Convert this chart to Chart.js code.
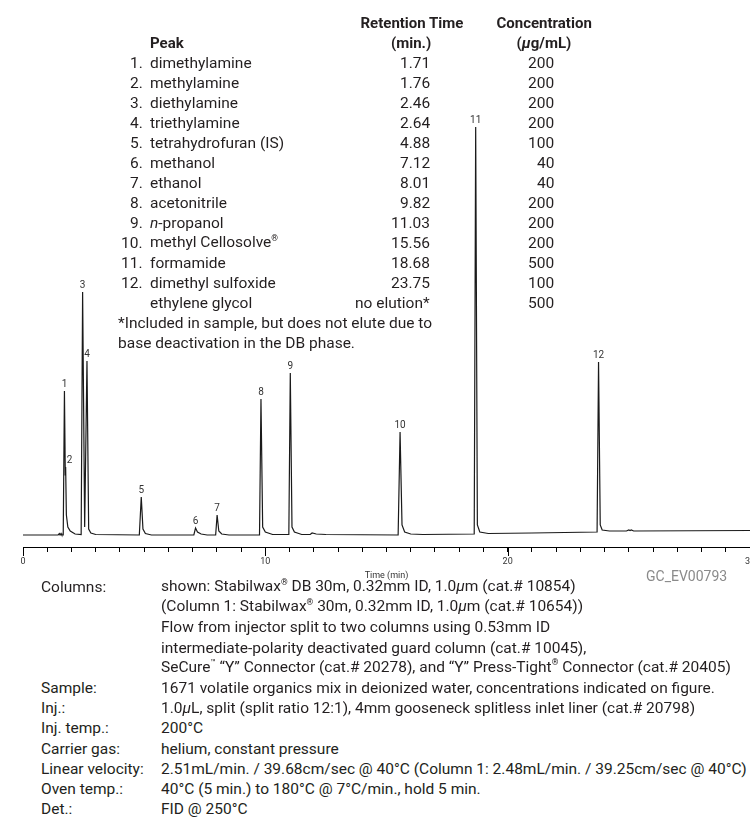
<!DOCTYPE html>
<html>
<head>
<meta charset="utf-8">
<script src="https://cdn.jsdelivr.net/npm/chart.js@4.4.1/dist/chart.umd.min.js"></script>
<style>
  body { margin: 0; width: 750px; height: 829px; overflow: hidden; background: #fff; position: relative;
         font-family: Roboto, "Liberation Sans Narrow", sans-serif; color: #231f20; }
  #chartBox { position: absolute; left: 0; top: 0; width: 760px; height: 600px; }
  #chart { display: block; }
  .t { position: absolute; white-space: nowrap; line-height: 20px; font-size: 15.5px; transform: translateY(-50%); }
  .b { font-weight: bold; font-size: 15px; }
  sup { font-size: 55%; vertical-align: 0; position: relative; top: -0.75em; }
  .code { color: #8a8a8a; font-size: 14px; }
</style>
</head>
<body>
<div id="chartBox"><canvas id="chart" width="760" height="600"></canvas></div>
<div id="overlay"></div>
<script>
// peak table
const peakNames = ['dimethylamine', 'methylamine', 'diethylamine', 'triethylamine', 'tetrahydrofuran (IS)',
  'methanol', 'ethanol', 'acetonitrile', '<i>n</i>-propanol', 'methyl Cellosolve<sup>®</sup>', 'formamide',
  'dimethyl sulfoxide'];
const peakTimes = [1.71, 1.76, 2.46, 2.64, 4.88, 7.12, 8.01, 9.82, 11.03, 15.56, 18.68, 23.75];
const peakConc = [200, 200, 200, 200, 100, 40, 40, 200, 200, 200, 500, 100];
const extraRow = ['ethylene glycol', 'no elution*', 500];

// detector trace (time in min, signal in arbitrary units)
const traceTime = [0, 1.45, 1.5, 1.53, 1.57, 1.6, 1.66, 1.71, 1.745, 1.76, 1.79, 1.85, 1.95, 2.15,
  2.4, 2.46, 2.545, 2.64, 2.71, 2.8, 3.0, 4.8, 4.88, 4.95, 5.05, 5.3, 7.05, 7.12, 7.2, 7.35, 7.6,
  7.95, 8.01, 8.08, 8.2, 8.5, 9.76, 9.82, 9.89, 10.0, 10.3, 10.97, 11.03, 11.1, 11.2, 11.5, 11.85,
  11.93, 12.1, 12.5, 15.48, 15.56, 15.64, 15.75, 16.0, 16.5, 18.62, 18.68, 18.75, 18.85, 19.2, 21.0,
  23.69, 23.75, 23.82, 23.9, 24.2, 24.9, 25.0, 25.05, 25.1, 25.2, 30];
const traceSignal = [0, 0, 1.5, 0, 1.5, 0, 0, 144, 60, 68, 20, 8, 4, 1,
  0.5, 243, 8, 174, 6, 2, 0.5, 0, 38, 6, 1.5, 0, 0, 7, 3, 1, 0,
  0, 20, 4, 1, 0, 0, 136, 8, 3, 0.5, 0.5, 162, 8, 3, 0.5, 0.5,
  2, 1, 0.5, 0, 103, 10, 3, 1, 0.5, 1, 408, 10, 3, 1.5, 2,
  3, 173, 10, 5, 4, 4, 5, 4.5, 5, 4, 4.5];

const axisTicks = [0, 10, 20, 30];

// conditions block
const condLabels = ['Columns:', '', '', '', '', 'Sample:', 'Inj.:', 'Inj. temp.:', 'Carrier gas:',
  'Linear velocity:', 'Oven temp.:', 'Det.:'];
const condValues = [
  'shown: Stabilwax<sup>®</sup> DB 30m, 0.32mm ID, 1.0<i>µ</i>m (cat.# 10854)',
  '(Column 1: Stabilwax<sup>®</sup> 30m, 0.32mm ID, 1.0<i>µ</i>m (cat.# 10654))',
  'Flow from injector split to two columns using 0.53mm ID',
  'intermediate-polarity deactivated guard column (cat.# 10045),',
  'SeCure<sup>™</sup> “Y” Connector (cat.# 20278), and “Y” Press-Tight<sup>®</sup> Connector (cat.# 20405)',
  '1671 volatile organics mix in deionized water, concentrations indicated on figure.',
  '1.0<i>µ</i>L, split (split ratio 12:1), 4mm gooseneck splitless inlet liner (cat.# 20798)',
  '200°C',
  'helium, constant pressure',
  '2.51mL/min. / 39.68cm/sec @ 40°C (Column 1: 2.48mL/min. / 39.25cm/sec @ 40°C)',
  '40°C (5 min.) to 180°C @ 7°C/min., hold 5 min.',
  'FID @ 250°C'
];

const overlay = document.getElementById('overlay');
function put(html, x, y, cls, anchor) {
  const d = document.createElement('div');
  d.className = 't ' + (cls || '');
  d.innerHTML = html;
  overlay.appendChild(d);
  if (anchor == 'right') d.style.left = (x - d.offsetWidth) + 'px';
  else if (anchor == 'center') d.style.left = (x - d.offsetWidth / 2) + 'px';
  else d.style.left = x + 'px';
  d.style.top = y + 'px';
  return d;
}

// table
put('Retention Time', 412, 23, 'b', 'center');
put('(min.)', 411, 43, 'b', 'center');
put('Concentration', 544, 23, 'b', 'center');
put('(<i>µ</i>g/mL)', 544, 43, 'b', 'center');
put('Peak', 150, 43, 'b');
for (let i = 0; i < peakNames.length; i++) {
  const y = 63 + i * 20;
  put((i + 1) + '.', 143, y, '', 'right');
  put(peakNames[i], 150, y);
  put(peakTimes[i].toFixed(2), 430, y, '', 'right');
  put(String(peakConc[i]), 554, y, '', 'right');
}
put(extraRow[0], 150, 303);
put(extraRow[1], 430, 303, '', 'right');
put(String(extraRow[2]), 554, 303, '', 'right');
put('*Included in sample, but does not elute due to', 118, 323);
put('base deactivation in the DB phase.', 118, 343);

put('GC_EV00793', 727, 576, 'code', 'right');

for (let i = 0; i < condLabels.length; i++) {
  const y = 587 + i * 20.2;
  if (condLabels[i]) put(condLabels[i], 41, y);
  put(condValues[i], 161, y);
}

// peak numbers above each apex and the long ticks at 0/10/20/30
const peakMarks = {
  id: 'peakMarks',
  afterDraw(chart) {
    const ctx = chart.ctx;
    const xs = chart.scales.x, ys = chart.scales.y;
    ctx.save();
    ctx.fillStyle = '#333';
    ctx.font = '10px "Liberation Sans Narrow", Roboto, sans-serif';
    ctx.textAlign = 'center';
    ctx.textBaseline = 'bottom';
    for (let i = 0; i < peakTimes.length; i++) {
      let top = 0;
      for (let j = 0; j < traceTime.length; j++) {
        if (Math.abs(traceTime[j] - peakTimes[i]) <= 0.03) top = Math.max(top, traceSignal[j]);
      }
      const dx = i == 1 ? 4 : 0;
      ctx.fillText(String(i + 1), xs.getPixelForValue(peakTimes[i]) + dx, ys.getPixelForValue(top) - 2);
    }
    ctx.strokeStyle = '#000';
    ctx.lineWidth = 1;
    ctx.beginPath();
    for (const t of axisTicks) {
      const x = Math.round(xs.getPixelForValue(t)) + 0.5;
      ctx.moveTo(x, chart.chartArea.bottom);
      ctx.lineTo(x, chart.chartArea.bottom + 9);
    }
    ctx.stroke();
    ctx.restore();
  }
};

const ctx = document.getElementById('chart').getContext('2d');
new Chart(ctx, {
  type: 'line',
  data: {
    datasets: [{
      data: traceTime.map((t, i) => ({ x: t, y: traceSignal[i] })),
      borderColor: '#1a1a1a',
      borderWidth: 1.2,
      pointRadius: 0,
      tension: 0,
      fill: false
    }]
  },
  options: {
    responsive: false,
    animation: false,
    devicePixelRatio: 1,
    layout: { padding: { top: 115, left: 23, right: 10, bottom: 15 } },
    plugins: { legend: { display: false }, tooltip: { enabled: false } },
    scales: {
      x: {
        type: 'linear', min: 0, max: 30,
        afterFit: (s) => { s.height = 38; },
        ticks: {
          stepSize: 1, autoSkip: false, maxRotation: 0, padding: 4,
          color: '#333', font: { size: 9, family: '"Liberation Sans Narrow", Roboto, sans-serif' },
          callback: (v) => (v % 10 === 0 ? v : '')
        },
        grid: { drawOnChartArea: false, drawTicks: true, tickLength: 5, color: '#000', lineWidth: 1 },
        border: { display: true, color: '#000', width: 1 },
        title: {
          display: true, text: 'Time (min)', color: '#333',
          font: { size: 9, family: '"Liberation Sans Narrow", Roboto, sans-serif' }
        }
      },
      y: { display: false, min: -12, max: 420 }
    }
  },
  plugins: [peakMarks]
});
</script>
</body>
</html>
